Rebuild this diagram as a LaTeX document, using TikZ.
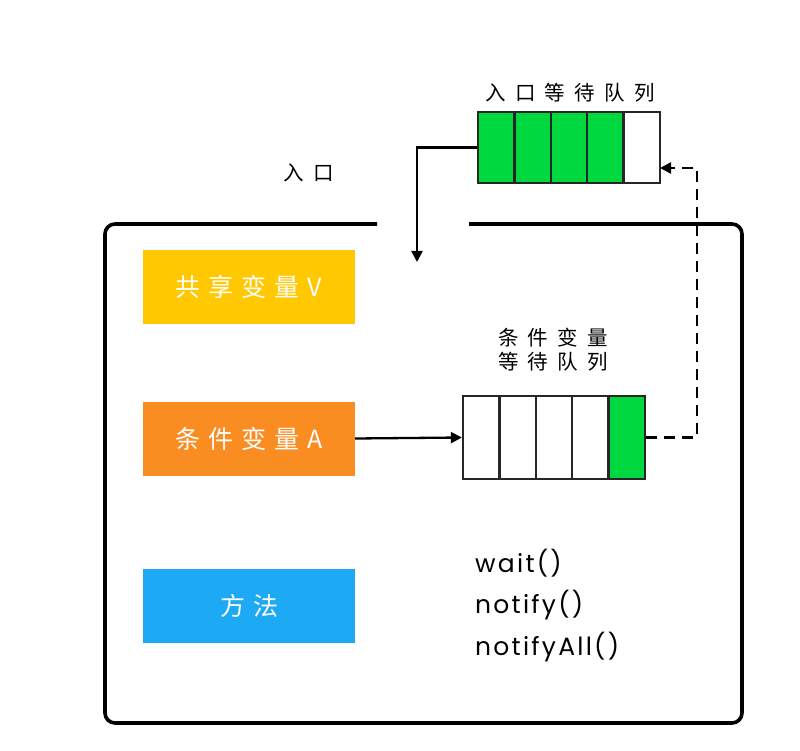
\documentclass[tikz,border=0pt]{standalone}
\usepackage{fontspec}
\setmainfont{Poppins}[LetterSpace=9]
\newfontfamily\cjk[LetterSpace=32]{Noto Sans CJK SC}
\newfontfamily\cjkl[LetterSpace=45]{Noto Sans CJK SC}
\usetikzlibrary{arrows.meta}
\definecolor{qgreen}{RGB}{0,216,64}
\definecolor{byellow}{RGB}{255,200,0}
\definecolor{borange}{RGB}{249,141,34}
\definecolor{bblue}{RGB}{29,169,244}
\tikzset{
  colbox/.style={minimum width=212pt, minimum height=74pt, inner sep=0pt, text=white, font=\fontsize{25}{28}\selectfont\cjk},
  qcell/.style={draw=black!85, line width=2.3pt, minimum width=36.4pt, inner sep=0pt},
  lbl/.style={font=\fontsize{20.5}{26}\selectfont\cjkl, align=center, inner sep=0pt},
  arr/.style={line width=2.3pt, -{Triangle[length=11pt,width=11pt]}},
  darr/.style={line width=2.3pt, dash pattern=on 11pt off 7pt, -{Triangle[length=11pt,width=11pt]}},
  mtext/.style={anchor=west, font=\fontsize{25}{28}\selectfont, inner sep=0pt}
}
\begin{document}
\begin{tikzpicture}[x=1pt,y=-1pt]
\useasboundingbox (0,0) rectangle (800,751);
% monitor outline with entry gap
\draw[line width=3.6pt, rounded corners=10pt] (377,224) -- (105,224) -- (105,723) -- (742,723) -- (742,224) -- (469,224);
% coloured boxes
\node[colbox, fill=byellow] (v) at (249,287) {共享变量V};
\node[colbox, fill=borange] (a) at (249,438.5) {条件变量A};
\node[colbox, fill=bblue] (m) at (249,606) {方法};
% entry queue
\foreach \i/\c in {1/qgreen,2/qgreen,3/qgreen,4/qgreen,5/white}{
  \node[qcell, fill=\c, minimum height=71pt] (t\i) at ({478+18.2+36.4*(\i-1)},147.5) {};
}
\node[lbl] (tl) at (570,93) {入口等待队列};
% condition queue
\foreach \i/\c in {1/white,2/white,3/white,4/white,5/qgreen}{
  \node[qcell, fill=\c, minimum height=83pt] (b\i) at ({463+18.2+36.4*(\i-1)},437.5) {};
}
\node[lbl] (bl) at (553,350) {条件变量\\[-2pt]等待队列};
\node[lbl] (entry) at (309,173) {入口};
% arrows
\coordinate (in) at (417,262);
\draw[arr] (t1.west) -| (in);
\draw[arr] (a.east) -- (b1.west);
\coordinate (dx) at (697,0);
\coordinate (tin) at (660,168);
\draw[darr] (b5.east) -- (b5.east -| dx) -- (dx |- tin) -- (tin);
% methods
\node[mtext] (w) at (475,563) {wait()};
\node[mtext] (n) at (475,605) {notify()};
\node[mtext] (na) at (475,647) {notifyAll()};
\end{tikzpicture}
\end{document}
